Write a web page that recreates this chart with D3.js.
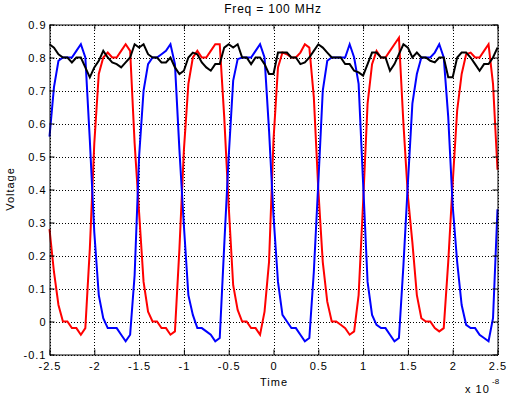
<!DOCTYPE html>
<html>
<head>
<meta charset="utf-8">
<script src="https://cdn.jsdelivr.net/npm/d3@7"></script>
<style>
body { margin: 0; background: #fff; }
text { font-family: Arial, 'Liberation Sans', Helvetica, sans-serif; fill: #000; }
</style>
</head>
<body>
<script>
// time base, in units of 1e-8 s
var time = [
    -2.5, -2.45, -2.4, -2.35, -2.3, -2.25, -2.2, -2.15, -2.1, -2.05,
    -2, -1.95, -1.9, -1.85, -1.8, -1.75, -1.7, -1.65, -1.6, -1.55,
    -1.5, -1.45, -1.4, -1.35, -1.3, -1.25, -1.2, -1.15, -1.1, -1.05,
    -1, -0.95, -0.9, -0.85, -0.8, -0.75, -0.7, -0.65, -0.6, -0.55,
    -0.5, -0.45, -0.4, -0.35, -0.3, -0.25, -0.2, -0.15, -0.1, -0.05,
    0, 0.05, 0.1, 0.15, 0.2, 0.25, 0.3, 0.35, 0.4, 0.45,
    0.5, 0.55, 0.6, 0.65, 0.7, 0.75, 0.8, 0.85, 0.9, 0.95,
    1, 1.05, 1.1, 1.15, 1.2, 1.25, 1.3, 1.35, 1.4, 1.45,
    1.5, 1.55, 1.6, 1.65, 1.7, 1.75, 1.8, 1.85, 1.9, 1.95,
    2, 2.05, 2.1, 2.15, 2.2, 2.25, 2.3, 2.35, 2.4, 2.45,
    2.5
];

var redVolts = [
    0.28, 0.15, 0.05, 0.00, 0.00, -0.02, -0.02, -0.04, -0.02, 0.22,
    0.54, 0.75, 0.80, 0.815, 0.80, 0.80, 0.82, 0.84, 0.82, 0.54,
    0.33, 0.12, 0.03, 0.00, 0.00, -0.02, -0.02, -0.04, -0.03, 0.22,
    0.52, 0.72, 0.80, 0.82, 0.80, 0.80, 0.82, 0.84, 0.84, 0.62,
    0.35, 0.11, 0.035, 0.00, 0.00, -0.02, -0.02, -0.04, 0.03, 0.18,
    0.55, 0.77, 0.815, 0.81, 0.80, 0.80, 0.815, 0.84, 0.83, 0.68,
    0.40, 0.18, 0.06, 0.00, 0.00, -0.01, -0.02, -0.04, -0.03, 0.08,
    0.36, 0.66, 0.78, 0.82, 0.80, 0.80, 0.82, 0.84, 0.86, 0.60,
    0.38, 0.24, 0.08, 0.01, 0.00, 0.00, -0.02, -0.03, -0.02, 0.18,
    0.42, 0.64, 0.75, 0.81, 0.815, 0.80, 0.80, 0.82, 0.84, 0.72,
    0.46
];

var blueVolts = [
    0.56, 0.71, 0.79, 0.80, 0.80, 0.80, 0.82, 0.84, 0.80, 0.55,
    0.27, 0.08, 0.01, -0.02, -0.02, -0.02, -0.04, -0.06, -0.04, 0.14,
    0.50, 0.70, 0.78, 0.80, 0.80, 0.81, 0.82, 0.84, 0.78, 0.52,
    0.29, 0.08, 0.02, -0.02, -0.02, -0.03, -0.04, -0.06, -0.05, 0.23,
    0.50, 0.73, 0.795, 0.80, 0.80, 0.80, 0.82, 0.84, 0.80, 0.58,
    0.32, 0.12, 0.02, 0.00, -0.02, -0.02, -0.04, -0.06, -0.05, 0.15,
    0.42, 0.70, 0.79, 0.80, 0.80, 0.80, 0.80, 0.84, 0.80, 0.72,
    0.42, 0.12, 0.02, -0.01, -0.02, -0.02, -0.04, -0.06, -0.05, 0.17,
    0.42, 0.66, 0.75, 0.80, 0.80, 0.80, 0.815, 0.84, 0.80, 0.62,
    0.35, 0.18, 0.05, -0.01, -0.02, -0.02, -0.04, -0.05, -0.06, 0.01,
    0.34
];

var blackVolts = [
    0.84, 0.83, 0.81, 0.80, 0.80, 0.785, 0.80, 0.80, 0.77, 0.74,
    0.77, 0.79, 0.82, 0.80, 0.785, 0.78, 0.77, 0.785, 0.80, 0.84,
    0.83, 0.84, 0.81, 0.80, 0.80, 0.785, 0.785, 0.80, 0.77, 0.75,
    0.76, 0.80, 0.815, 0.81, 0.785, 0.77, 0.76, 0.78, 0.78, 0.83,
    0.84, 0.83, 0.84, 0.80, 0.80, 0.78, 0.80, 0.80, 0.78, 0.75,
    0.75, 0.815, 0.815, 0.815, 0.80, 0.80, 0.78, 0.785, 0.80, 0.82,
    0.84, 0.83, 0.815, 0.80, 0.80, 0.80, 0.78, 0.78, 0.76, 0.755,
    0.745, 0.78, 0.815, 0.815, 0.80, 0.80, 0.76, 0.78, 0.81, 0.84,
    0.83, 0.80, 0.815, 0.80, 0.80, 0.79, 0.785, 0.80, 0.80, 0.74,
    0.74, 0.80, 0.815, 0.815, 0.80, 0.78, 0.76, 0.78, 0.78, 0.80,
    0.83
];

var xTicks = [-2.5, -2, -1.5, -1, -0.5, 0, 0.5, 1, 1.5, 2, 2.5];
var yTicks = [-0.1, 0, 0.1, 0.2, 0.3, 0.4, 0.5, 0.6, 0.7, 0.8, 0.9];
var titleText = 'Freq = 100 MHz',
    xLabel = 'Time',
    yLabel = 'Voltage',
    xExponent = '-8';

var W = 507, H = 395,
    plotW = 448, plotH = 330,
    svg = d3.select('body').append('svg')
        .attr('width', W)
        .attr('height', H),
    chart = svg.append('g')
        .attr('transform', 'translate(49.5,24.5)'),
    xScale = d3.scaleLinear().domain([-2.5, 2.5]).range([0, plotW]),
    yScale = d3.scaleLinear().domain([-0.1, 0.9]).range([plotH, 0]),
    fmt = function(d) { return String(d); },
    svgline = d3.line()
        .x(function(d) { return xScale(d.t); })
        .y(function(d) { return yScale(d.v); }),
    series = [
        {color: '#ff0000', values: redVolts},
        {color: '#0000ff', values: blueVolts},
        {color: '#000000', values: blackVolts}
    ];

// dotted grid
chart.append('g')
    .attr('class', 'grid')
    .attr('transform', 'translate(0,' + plotH + ')')
    .call(d3.axisBottom(xScale).tickValues(xTicks).tickSize(-plotH).tickFormat(''));
chart.append('g')
    .attr('class', 'grid')
    .call(d3.axisLeft(yScale).tickValues(yTicks).tickSize(-plotW).tickFormat(''));
chart.selectAll('.grid .domain').remove();
chart.selectAll('.grid line')
    .attr('stroke', '#000')
    .attr('stroke-width', 1)
    .attr('stroke-dasharray', '1,2')
    .attr('shape-rendering', 'crispEdges');

// traces
chart.append('g').selectAll('path')
    .data(series)
    .enter()
    .append('path')
    .attr('d', function(s) {
        return svgline(s.values.map(function(v, i) { return {t: time[i], v: v}; }));
    })
    .attr('fill', 'none')
    .attr('stroke', function(s) { return s.color; })
    .attr('stroke-width', 2);

// box with inward ticks
var xx = chart.append('g')
        .attr('transform', 'translate(0,' + plotH + ')')
        .call(d3.axisBottom(xScale).tickValues(xTicks).tickSize(-5).tickSizeOuter(0)
            .tickPadding(8).tickFormat(fmt)),
    yy = chart.append('g')
        .call(d3.axisLeft(yScale).tickValues(yTicks).tickSize(-5).tickSizeOuter(0)
            .tickPadding(3).tickFormat(fmt));
chart.append('g')
    .call(d3.axisTop(xScale).tickValues(xTicks).tickSize(-5).tickSizeOuter(0).tickFormat(''));
chart.append('g')
    .attr('transform', 'translate(' + plotW + ',0)')
    .call(d3.axisRight(yScale).tickValues(yTicks).tickSize(-5).tickSizeOuter(0).tickFormat(''));

chart.selectAll('.domain').attr('stroke-width', 1);
chart.selectAll('g').attr('font-family', null).attr('font-size', null);
xx.selectAll('text').style('font-size', '11px').style('letter-spacing', '1px');
yy.selectAll('text').style('font-size', '11px').style('letter-spacing', '1px');

// labels
svg.append('text')
    .attr('x', 273)
    .attr('y', 13)
    .attr('text-anchor', 'middle')
    .style('font-size', '12px')
    .style('letter-spacing', '0.8px')
    .text(titleText);

svg.append('text')
    .attr('x', 274)
    .attr('y', 386)
    .attr('text-anchor', 'middle')
    .style('font-size', '11px')
    .style('letter-spacing', '1px')
    .text(xLabel);

svg.append('text')
    .attr('transform', 'translate(14,189) rotate(-90)')
    .attr('text-anchor', 'middle')
    .style('font-size', '11px')
    .style('letter-spacing', '1px')
    .text(yLabel);

svg.append('text')
    .attr('x', 465)
    .attr('y', 393)
    .style('font-size', '11px')
    .style('letter-spacing', '1px')
    .text('x 10');

svg.append('text')
    .attr('x', 492)
    .attr('y', 384)
    .style('font-size', '8px')
    .text(xExponent);
</script>
</body>
</html>
